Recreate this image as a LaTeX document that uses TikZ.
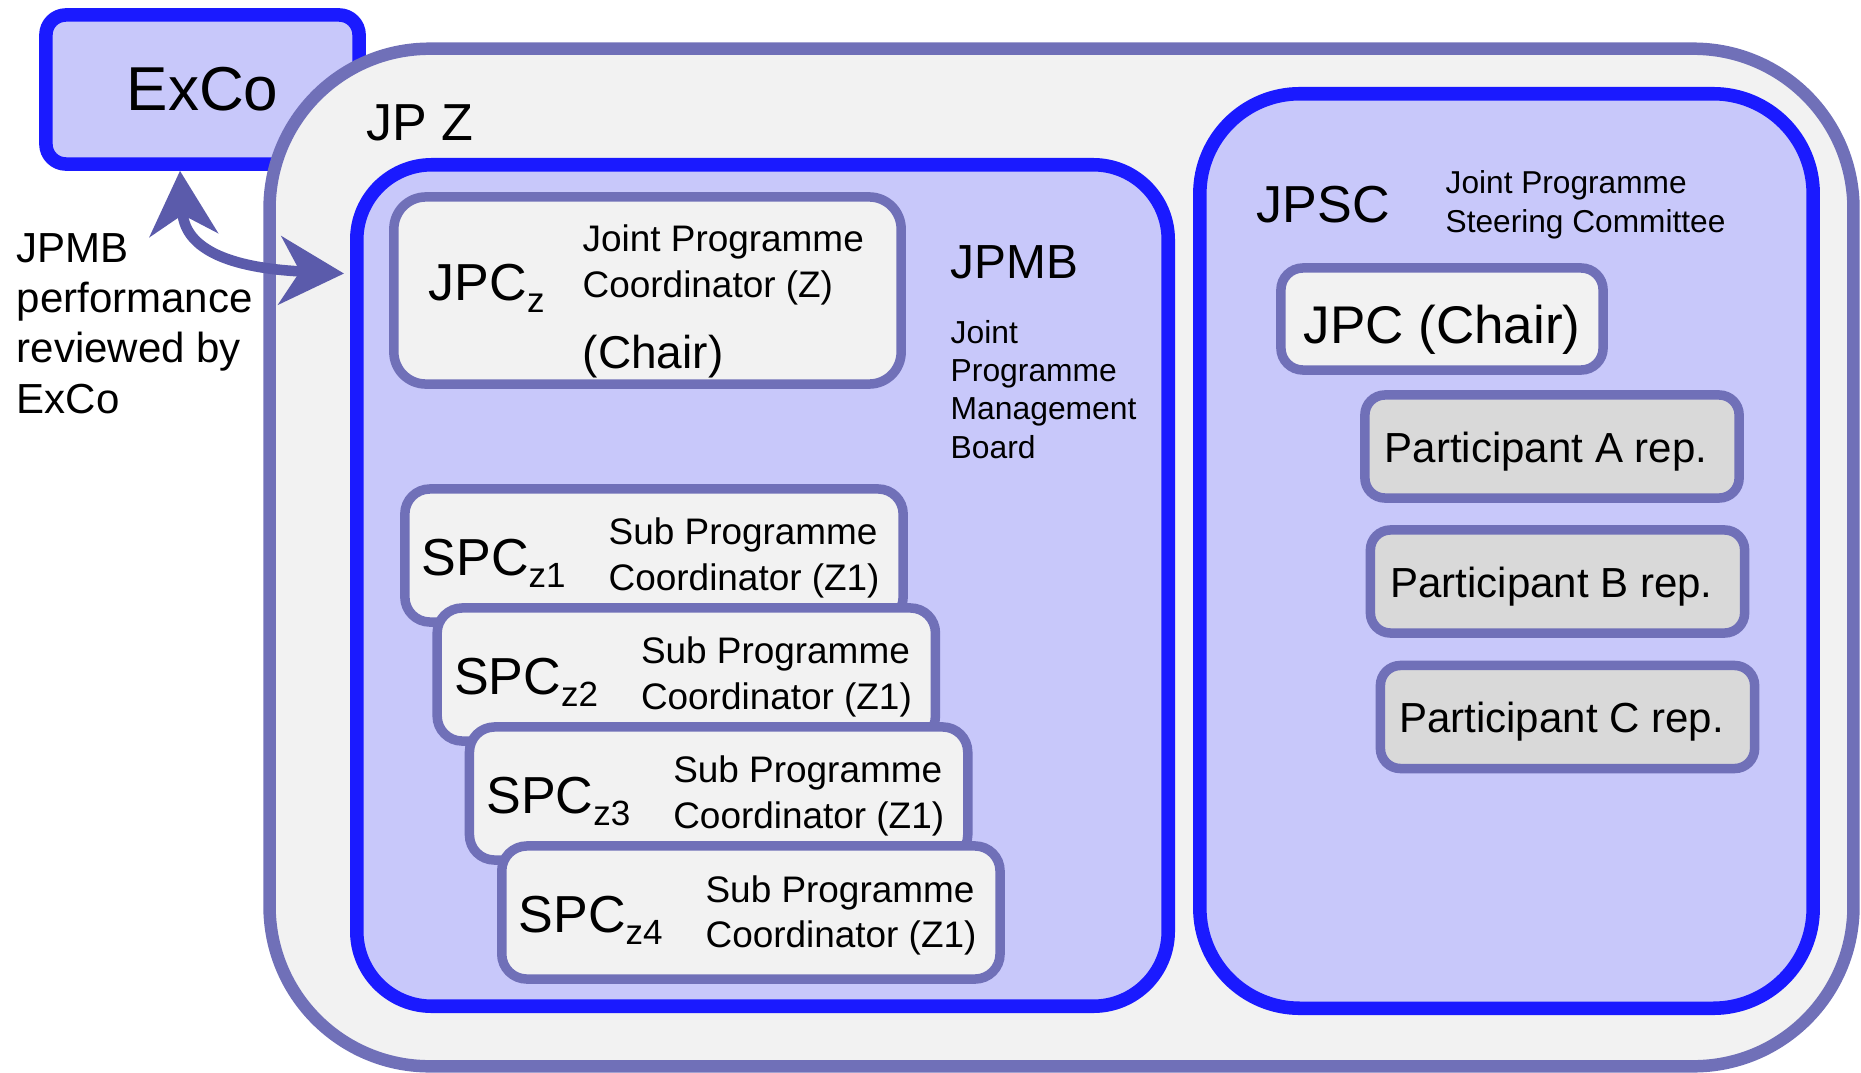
\documentclass[tikz,border=0pt]{standalone}
\usepackage{fontspec}
\setmainfont{Liberation Sans}
\usetikzlibrary{arrows.meta}

\definecolor{boxblue}{HTML}{1A1AFF}
\definecolor{boxlilac}{HTML}{7070B8}
\definecolor{filllilac}{HTML}{C8C8FA}
\definecolor{fillgrey}{HTML}{F2F2F2}
\definecolor{fillpart}{HTML}{D9D9D9}
\definecolor{arrowlilac}{HTML}{5B5BAB}

\newcommand{\lowsub}[1]{\raisebox{-0.12cm}{\fontsize{9.96pt}{12pt}\selectfont #1}}

\tikzset{
  bluebox/.style={draw=boxblue, line width=3.85pt, fill=filllilac, inner sep=0pt},
  greybox/.style={draw=boxlilac, line width=2.7pt, fill=fillgrey, inner sep=0pt, rounded corners=0.25cm},
  partbox/.style={greybox, fill=fillpart, rounded corners=0.2cm, font=\fontsize{11.95pt}{14pt}\selectfont, text height=0.31cm, text depth=0pt},
  lbl/.style={anchor=base west, inner sep=0pt, align=left},
  revarrow/.style={draw=arrowlilac, line width=3pt, {Stealth[length=0.64cm,width=0.68cm,inset=0.2cm]}-{Stealth[length=0.64cm,width=0.68cm,inset=0.2cm]}}
}

\begin{document}
\begin{tikzpicture}[x=0.01cm, y=-0.01cm]
\useasboundingbox (0,0) rectangle (1861,1073);

%% ExCo
\node[bluebox, rounded corners=0.2cm, minimum width=3.13cm, minimum height=1.49cm, font=\fontsize{17.64pt}{20pt}\selectfont, text height=0.41cm, text depth=0pt] (exco) at (202.5,89.5) {ExCo};

%% JP Z
\node[greybox, line width=3.55pt, rounded corners=1.6cm, minimum width=15.83cm, minimum height=10.17cm] (jpz) at (1061.5,557.5) {};
\node[lbl, font=\fontsize{14.8pt}{18pt}\selectfont] (jpzname) at (366,140) {JP Z};

%% JPMB (multi-line labels sit on their last line)
\node[bluebox, rounded corners=0.75cm, minimum width=8.11cm, minimum height=8.41cm] (jpmb) at (762.5,585.5) {};
\node[lbl, font=\fontsize{13.6pt}{16pt}\selectfont] (jpmbname) at (950,278) {JPMB};
\node[lbl, font=\fontsize{9.05pt}{10.81pt}\selectfont] (jpmbdesc) at (950,458) {Joint\\Programme\\Management\\Board};

%% JPC z
\node[greybox, rounded corners=0.32cm, minimum width=5.07cm, minimum height=1.87cm] (jpcz) at (647.5,290.5) {};
\node[lbl, font=\fontsize{14.8pt}{18pt}\selectfont] (jpczname) at (428,300) {JPC\lowsub{z}};
\node[lbl, font=\fontsize{10.5pt}{12.8pt}\selectfont] (jpczdesc) at (582,297) {Joint Programme\\Coordinator (Z)};
\node[lbl, font=\fontsize{13.09pt}{16pt}\selectfont] (jpczchair) at (582,368) {(Chair)};

%% SPC boxes
\foreach \i in {1,...,4} {
  \node[greybox, minimum width=4.98cm, minimum height=1.33cm] (spc\i) at ({654+32.3*(\i-1)},{555.5+119*(\i-1)}) {};
  \node[lbl, font=\fontsize{14.8pt}{18pt}\selectfont] (spcname\i) at ({421+32.3*(\i-1)},{575+119*(\i-1)}) {SPC\lowsub{z\i}};
  \node[lbl, font=\fontsize{10.5pt}{12.8pt}\selectfont] (spcdesc\i) at ({608+32.3*(\i-1)},{590+119*(\i-1)}) {Sub Programme\\Coordinator (Z1)};
}

%% JPSC
\node[bluebox, rounded corners=1cm, minimum width=6.13cm, minimum height=9.14cm] (jpsc) at (1506.5,551) {};
\node[lbl, font=\fontsize{14.8pt}{18pt}\selectfont] (jpscname) at (1256,222) {JPSC};
\node[lbl, font=\fontsize{9.0pt}{10.81pt}\selectfont] (jpscdesc) at (1445,232) {Joint Programme\\Steering Committee};
\node[greybox, rounded corners=0.22cm, minimum width=3.22cm, minimum height=1.02cm, font=\fontsize{15.08pt}{18pt}\selectfont, text height=0.48cm, text depth=0pt] (jpcchair) at (1442,319) {JPC (Chair)};

%% Participants
\foreach \p/\x/\y in {A/1552/446.5, B/1557.5/581.5, C/1567.5/717}
  \node[partbox, minimum width=3.74cm, minimum height=1.03cm] (part\p) at (\x,\y) {Participant \p{} rep.\hspace*{0.12cm}};

%% Review arrow and its label
\node[lbl, font=\fontsize{11.95pt}{14.31pt}\selectfont] (review) at (16,413) {JPMB\\performance\\reviewed by\\ExCo};
\draw[revarrow, shorten >=0.06cm] ([xshift=-0.225cm]exco.south) .. controls +(5,85) and +(-104,-5) .. ([yshift=3.115cm]jpmb.west);

\end{tikzpicture}
\end{document}
